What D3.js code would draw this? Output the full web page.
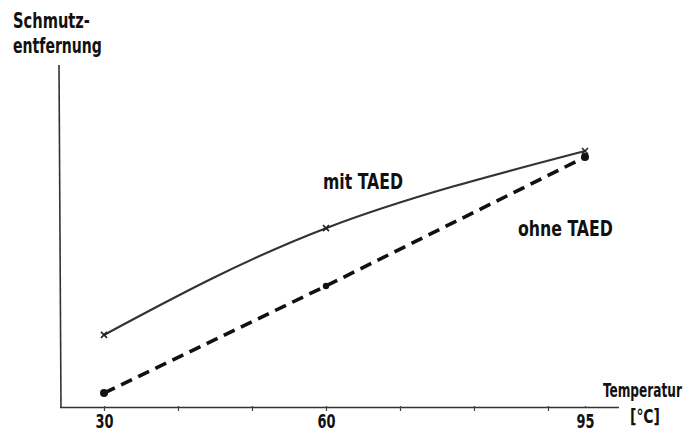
<!DOCTYPE html>
<html><head><meta charset="utf-8">
<script src="https://cdn.jsdelivr.net/npm/d3@7"></script>
<style>
body{margin:0;background:#fff;}
text{font-family:"DejaVu Sans Condensed","Liberation Sans Narrow","DejaVu Sans",sans-serif;font-weight:bold;fill:#111;}
</style></head>
<body><svg id="c" width="688" height="432"></svg>
<script>
const temps = [30, 60, 95];
const mitTAED = [21.2, 52.6, 75.3];
const ohneTAED = [4.1, 35.6, 73.5];
const tickValues = [30,40,50,60,70,80,90,95];
const tickLabels = {30:"30",60:"60",95:"95"};

const svg = d3.select("#c");
const x = d3.scaleLinear().domain([30,60]).range([104,326]);
const y = d3.scaleLinear().domain([0,100]).range([407,67]);

// axes
svg.append("line").attr("x1",59).attr("x2",61).attr("y1",65).attr("y2",408)
  .attr("stroke","#333").attr("stroke-width",1.6);
svg.append("line").attr("x1",60).attr("x2",619).attr("y1",407.5).attr("y2",407.5)
  .attr("stroke","#333").attr("stroke-width",1.6);

const xAxis = d3.axisBottom(x).tickValues(tickValues)
  .tickSize(5).tickFormat(d=>tickLabels[d]||"");
const gx = svg.append("g").attr("transform","translate(0,406)").call(xAxis);
gx.select(".domain").remove();
gx.selectAll(".tick line").attr("stroke","#444").attr("stroke-width",1.2);
gx.selectAll(".tick").filter(d=>d===95).select("line").attr("y2",2);
gx.selectAll(".tick text").attr("font-size",20).attr("y",21.5).attr("dy",null)
  .attr("textLength",d=>tickLabels[d]?18:null).attr("lengthAdjust","spacingAndGlyphs")
  .style("font-family",'"DejaVu Sans Condensed","DejaVu Sans",sans-serif')
  .style("font-weight","bold").attr("fill","#111");

// lines
const mitData = temps.map((t,i)=>[t,mitTAED[i]]);
const ohneData = temps.map((t,i)=>[t,ohneTAED[i]]);
const lineCurve = d3.line().x(d=>x(d[0])).y(d=>y(d[1])).curve(d3.curveNatural);
const lineStraight = d3.line().x(d=>x(d[0])).y(d=>y(d[1]));

svg.append("path").attr("d",lineCurve(mitData)).attr("fill","none")
  .attr("stroke","#333").attr("stroke-width",2.2);
svg.append("path").attr("d",lineStraight(ohneData)).attr("fill","none")
  .attr("stroke","#111").attr("stroke-width",3.6).attr("stroke-dasharray","12,7");

// markers
svg.selectAll(".dot").data(ohneData).enter().append("circle")
  .attr("cx",d=>x(d[0])).attr("cy",d=>y(d[1])).attr("r",(d,i)=>i===1?3.2:4)
  .attr("fill","#111");
const cross = svg.selectAll(".cr").data(mitData).enter().append("g")
  .attr("transform",d=>`translate(${x(d[0])},${y(d[1])})`);
cross.append("path").attr("d","M-3,-3L3,3M-3,3L3,-3").attr("stroke","#222").attr("stroke-width",1.6);

// labels (condensed via horizontal scale)
function label(txt, x0, yb, size, w){
  const t = svg.append("text").attr("x",0).attr("y",0).attr("font-size",size).text(txt);
  const natural = t.node().getComputedTextLength() || w;
  t.attr("transform",`translate(${x0},${yb}) scale(${w/natural},1)`);
}
label("Schmutz-", 13, 28, 21, 77);
label("entfernung", 13, 53, 21, 89);
label("mit TAED", 323, 189, 21, 80);
label("ohne TAED", 518, 236, 21, 95);
label("Temperatur", 603, 397, 20, 79);
label("[°C]", 630, 423, 20, 30);
</script></body></html>
